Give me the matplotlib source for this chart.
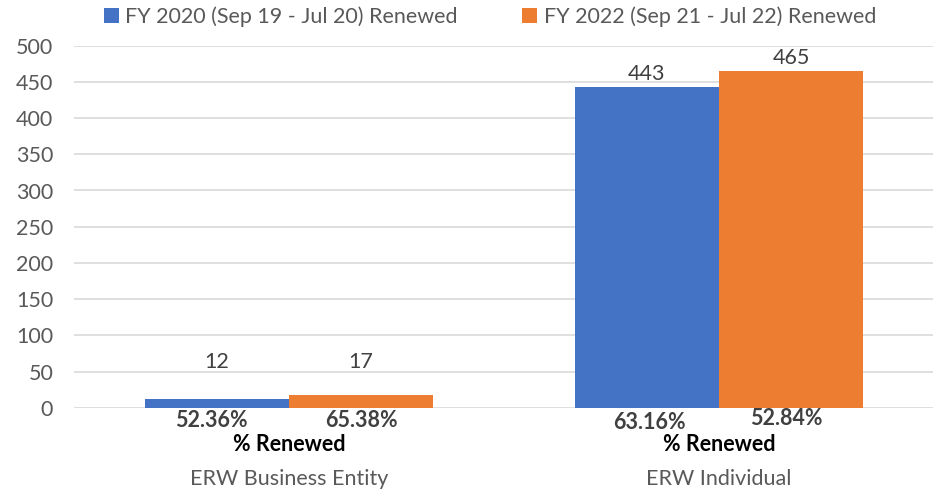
import matplotlib
matplotlib.use("Agg")
import matplotlib.pyplot as plt
import numpy as np

categories = ["ERW Business Entity", "ERW Individual"]
series_names = ["FY 2020 (Sep 19 - Jul 20) Renewed", "FY 2022 (Sep 21 - Jul 22) Renewed"]
fy2020 = [12, 443]
fy2022 = [17, 465]
pct2020 = ["52.36%", "63.16%"]
pct2022 = ["65.38%", "52.84%"]
yticks = [0, 50, 100, 150, 200, 250, 300, 350, 400, 450, 500]

colors = ["#4472C4", "#ED7D31"]
grey = "#595959"
FONT = "Lato"
FS = 15.5
plt.rcParams['font.family'] = [FONT, 'DejaVu Sans']

fig = plt.figure(figsize=(9.33, 4.90), dpi=100)
ax = fig.add_axes([74/933, 1 - 407.7/490, 860/933, (407.7 - 45.7)/490])

x = np.arange(len(categories))
w = 0.335
b1 = ax.bar(x - w/2, fy2020, w, color=colors[0], label=series_names[0], zorder=3)
b2 = ax.bar(x + w/2, fy2022, w, color=colors[1], label=series_names[1], zorder=3)

for bars, vals in ((b1, fy2020), (b2, fy2022)):
    for r, v in zip(bars, vals):
        cx = r.get_x() + r.get_width()/2
        if v < 100:
            ax.text(cx, 63, str(v), ha="center", va="center", fontsize=FS, color="#404040")
        else:
            ax.annotate(str(v), (cx, v), xytext=(0, 2), textcoords="offset points",
                        ha="center", va="bottom", fontsize=FS, color="#404040")

ax.set_xlim(-0.5, 1.5)
ax.set_ylim(0, 500)
ax.set_yticks(yticks)
ax.tick_params(axis='y', length=0, labelsize=FS, labelcolor=grey, pad=15)
ax.tick_params(axis='x', length=0)
ax.set_xticks([])
ax.grid(axis='y', color="#D9D9D9", linewidth=1.2, zorder=0)
for s in ax.spines.values():
    s.set_visible(False)

trans = ax.get_xaxis_transform()
pct_y = [(-0.034, -0.034), (-0.042, -0.029)]
pct_dx = [(-0.012, 0.0), (0.006, -0.012)]
for i in range(len(categories)):
    ax.text(x[i] - w/2 + pct_dx[i][0], pct_y[i][0], pct2020[i], transform=trans, ha="center", va="center",
            fontsize=FS, fontweight="bold", color="#404040")
    ax.text(x[i] + w/2 + pct_dx[i][1], pct_y[i][1], pct2022[i], transform=trans, ha="center", va="center",
            fontsize=FS, fontweight="bold", color="#404040")
    ax.text(x[i], -0.103, "% Renewed", transform=trans, ha="center", va="center",
            fontsize=FS, fontweight="bold", color="black")
    ax.text(x[i], -0.197, categories[i], transform=trans, ha="center", va="center",
            fontsize=FS, color=grey)

leg = fig.legend(handles=[b1, b2], loc="center", bbox_to_anchor=(490/933, 1 - 17/490),
                 ncol=2, frameon=False, fontsize=FS, handlelength=0.7, handleheight=0.7,
                 handletextpad=0.3, columnspacing=3.0, labelcolor=grey)

fig.savefig("out.png", dpi=100)
